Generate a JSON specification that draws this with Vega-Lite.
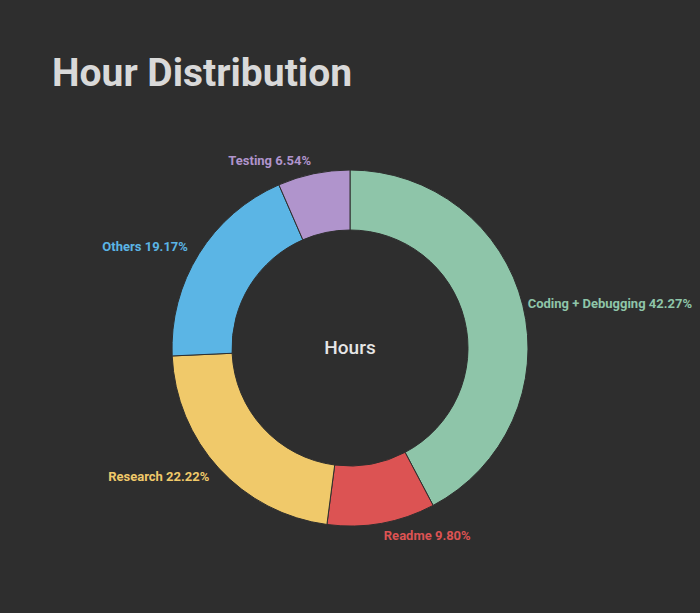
{
  "$schema": "https://vega.github.io/schema/vega-lite/v6.json",
  "width": 700,
  "height": 492,
  "autosize": "none",
  "padding": {"top": 102, "left": 0, "right": 0, "bottom": 19},
  "background": "#2e2e2e",
  "config": {"view": {"stroke": null}},
  "title": {
    "text": "Hour Distribution",
    "anchor": "start",
    "frame": "group",
    "dx": 52,
    "offset": -23,
    "baseline": "alphabetic",
    "font": "Roboto",
    "fontSize": 39,
    "fontWeight": "bold",
    "color": "#d9d9d9"
  },
  "data": {
    "values": [
      {"idx": 1, "category": "Coding + Debugging", "percent": 42.27, "label": "Coding + Debugging 42.27%"},
      {"idx": 2, "category": "Readme", "percent": 9.80, "label": "Readme 9.80%"},
      {"idx": 3, "category": "Research", "percent": 22.22, "label": "Research 22.22%"},
      {"idx": 4, "category": "Others", "percent": 19.17, "label": "Others 19.17%"},
      {"idx": 5, "category": "Testing", "percent": 6.54, "label": "Testing 6.54%"}
    ]
  },
  "layer": [
    {
      "mark": {"type": "arc", "radius": 178, "innerRadius": 118, "stroke": "#2e2e2e", "strokeWidth": 1},
      "encoding": {
        "theta": {"field": "percent", "type": "quantitative", "stack": true},
        "order": {"field": "idx", "type": "quantitative"},
        "color": {
          "field": "category",
          "type": "nominal",
          "scale": {
            "domain": ["Coding + Debugging", "Readme", "Research", "Others", "Testing"],
            "range": ["#8ec5a9", "#dc5353", "#f0c96a", "#5bb5e5", "#b094cc"]
          },
          "legend": null
        }
      }
    },
    {
      "mark": {
        "type": "text",
        "radius": {"expr": "datum.idx == 1 ? 183 : 191"},
        "font": "Roboto",
        "fontSize": 13,
        "fontWeight": "bold",
        "baseline": "middle",
        "align": {"expr": "datum.idx <= 2 ? 'left' : 'right'"}
      },
      "encoding": {
        "theta": {"field": "percent", "type": "quantitative", "stack": true},
        "order": {"field": "idx", "type": "quantitative"},
        "text": {"field": "label", "type": "nominal"},
        "color": {"field": "category", "type": "nominal", "legend": null}
      }
    },
    {
      "data": {"values": [{"center": "Hours"}]},
      "mark": {"type": "text", "font": "Roboto", "fontSize": 19, "fontWeight": 500, "color": "#e6e6e6", "baseline": "middle", "align": "center"},
      "encoding": {
        "text": {"field": "center", "type": "nominal"}
      }
    }
  ]
}
